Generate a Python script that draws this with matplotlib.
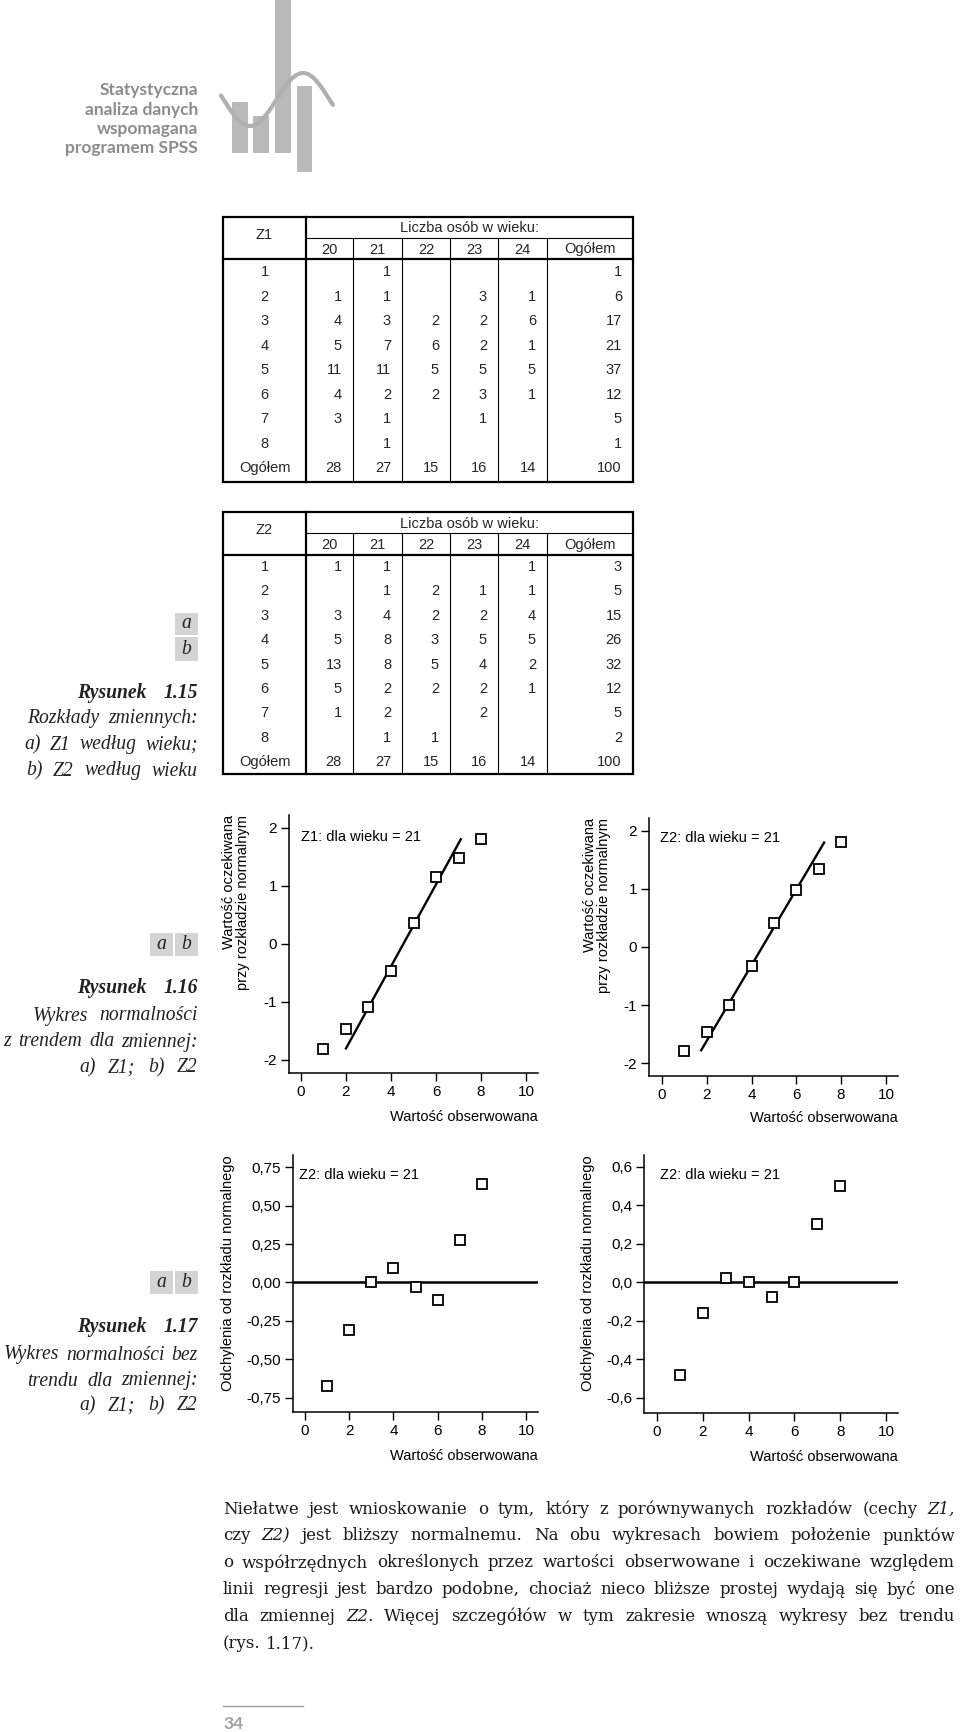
import numpy as np
import matplotlib
matplotlib.use('Agg')
import matplotlib.pyplot as plt
from matplotlib.patches import Rectangle

plt.rcParams['font.family'] = ['Liberation Sans', 'DejaVu Sans']
SERIF = ['DejaVu Serif']
CAP_SERIF = ['Liberation Serif', 'DejaVu Serif']

# --- tabele: Rysunek 1.15 ---
age_cols = ['20', '21', '22', '23', '24', 'Ogółem']
z_rows = ['1', '2', '3', '4', '5', '6', '7', '8', 'Ogółem']
z1_table = [
    [None, 1, None, None, None, 1],
    [1, 1, None, 3, 1, 6],
    [4, 3, 2, 2, 6, 17],
    [5, 7, 6, 2, 1, 21],
    [11, 11, 5, 5, 5, 37],
    [4, 2, 2, 3, 1, 12],
    [3, 1, None, 1, None, 5],
    [None, 1, None, None, None, 1],
    [28, 27, 15, 16, 14, 100],
]
z2_table = [
    [1, 1, None, None, 1, 3],
    [None, 1, 2, 1, 1, 5],
    [3, 4, 2, 2, 4, 15],
    [5, 8, 3, 5, 5, 26],
    [13, 8, 5, 4, 2, 32],
    [5, 2, 2, 2, 1, 12],
    [1, 2, None, 2, None, 5],
    [None, 1, 1, None, None, 2],
    [28, 27, 15, 16, 14, 100],
]

# --- wykresy normalności: Rysunek 1.16 i 1.17 ---
obs_x = [1, 2, 3, 4, 5, 6, 7, 8]
z1_expected = [-1.81, -1.47, -1.08, -0.47, 0.36, 1.15, 1.47, 1.80]
z2_expected = [-1.80, -1.46, -1.00, -0.32, 0.42, 0.99, 1.35, 1.81]
z1_trend_x = [2.0, 7.1]
z1_trend_y = [-1.80, 1.80]
z2_trend_x = [1.75, 7.24]
z2_trend_y = [-1.78, 1.80]
z1_dev = [-0.674, -0.308, 0.0, 0.096, -0.029, -0.113, 0.275, 0.642]
z2_dev = [-0.479, -0.16, 0.022, 0.0, -0.077, 0.0, 0.303, 0.50]

x_ticks = [0, 2, 4, 6, 8, 10]
trend_ticks = [-2, -1, 0, 1, 2]
trend_labels = ['-2', '-1', '0', '1', '2']
dev1_ticks = [-0.75, -0.5, -0.25, 0, 0.25, 0.5, 0.75]
dev1_labels = ['-0,75', '-0,50', '-0,25', '0,00', '0,25', '0,50', '0,75']
dev2_ticks = [-0.6, -0.4, -0.2, 0, 0.2, 0.4, 0.6]
dev2_labels = ['-0,6', '-0,4', '-0,2', '0,0', '0,2', '0,4', '0,6']

# --- tekst strony ---
logo_lines = ['Statystyczna', 'analiza danych', 'wspomagana', 'programem SPSS']
body_lines = [
    'Niełatwe jest wnioskowanie o tym, który z porównywanych rozkładów (cechy _Z1,',
    'czy _Z2) jest bliższy normalnemu. Na obu wykresach bowiem położenie punktów',
    'o współrzędnych określonych przez wartości obserwowane i oczekiwane względem',
    'linii regresji jest bardzo podobne, chociaż nieco bliższe prostej wydają się być one',
    'dla zmiennej _Z2. Więcej szczegółów w tym zakresie wnoszą wykresy bez trendu',
    '(rys. 1.17).',
]

W, H = 960, 1732
fig = plt.figure(figsize=(W / 100, H / 100), dpi=100)
bg = fig.add_axes([0, 0, 1, 1])
bg.set_xlim(0, W)
bg.set_ylim(H, 0)
bg.axis('off')
R = fig.canvas.get_renderer()

# --- logo w nagłówku ---
GRAY = '#b9b9b9'
for (x0, y0, x1, y1) in [(232, 102, 248, 153), (253, 116, 269, 153),
                         (275, 0, 291, 153), (297, 86, 312, 172)]:
    bg.add_patch(Rectangle((x0, y0), x1 - x0, y1 - y0, color=GRAY, lw=0))
wx = np.linspace(221, 333, 200)
bg.plot(wx, 99.5 + 26.5 * np.cos(np.pi * (wx - 250) / 53), color='#b0b0b0', lw=3,
        solid_capstyle='round')
for i, s in enumerate(logo_lines):
    bg.text(198, 90 + 19.5 * i, s, ha='right', va='center', fontsize=12.5,
            family=['Lato', 'DejaVu Sans'], fontweight='bold', color='#8c8c8c')


# --- tabele ---
def draw_table(top, bot, hsplit, hbot, row0, step, corner, values):
    L, Rr = 223, 633
    cols = [306, 353, 402, 450, 498, 547, 633]
    tc = '#262626'
    bg.add_patch(Rectangle((L, top), Rr - L, bot - top, fill=False, lw=1.6, ec='black'))
    bg.plot([cols[0], cols[0]], [top, bot], color='black', lw=1.6)
    bg.plot([L, Rr], [hbot, hbot], color='black', lw=1.6)
    bg.plot([cols[0], Rr], [hsplit, hsplit], color='black', lw=0.8)
    for c in cols[1:-1]:
        bg.plot([c, c], [hsplit, bot], color='black', lw=0.8)
    bg.text((cols[0] + Rr) / 2, (top + hsplit) / 2 + 1, 'Liczba osób w wieku:',
            ha='center', va='center', fontsize=10.5, color=tc)
    bg.text((L + cols[0]) / 2, (top + hbot) / 2 - 3, corner, ha='center', va='center',
            fontsize=10.5, color=tc)
    for j, a in enumerate(age_cols):
        bg.text((cols[j] + cols[j + 1]) / 2, (hsplit + hbot) / 2 + 1, a,
                ha='center', va='center', fontsize=10.5, color=tc)
    for i, (lab, row) in enumerate(zip(z_rows, values)):
        y = row0 + step * i
        bg.text((L + cols[0]) / 2, y, lab, ha='center', va='center', fontsize=10.5, color=tc)
        for j, v in enumerate(row):
            if v is not None:
                bg.text(cols[j + 1] - 11, y, str(v), ha='right', va='center',
                        fontsize=10.5, color=tc)


draw_table(217, 482, 238, 259, 272, 24.55, 'Z1', z1_table)
draw_table(512, 774, 533, 555, 567, 24.4, 'Z2', z2_table)


# --- wykresy ---
def panel(box, xlim, ylim, y, yticks, ylabels, ylabel, ylab_x, note_xy, note,
          xlab_y, trend=None, zero=False):
    l, t, r, b = box
    ax = fig.add_axes([l / W, 1 - b / H, (r - l) / W, (b - t) / H])
    ax.patch.set_alpha(0)
    for s in ['top', 'right']:
        ax.spines[s].set_visible(False)
    for s in ['left', 'bottom']:
        ax.spines[s].set_linewidth(1.1)
    if trend is not None:
        ax.plot(trend[0], trend[1], color='black', lw=1.7, zorder=2)
    if zero:
        ax.axhline(0, color='black', lw=1.8, zorder=2)
    ax.plot(obs_x, y, ls='none', marker='s', ms=6.5, mfc='white', mec='black',
            mew=1.3, zorder=3, clip_on=False)
    ax.set_xlim(xlim)
    ax.set_ylim(ylim)
    ax.set_xticks(x_ticks)
    ax.set_yticks(yticks)
    ax.set_yticklabels(ylabels)
    ax.tick_params(direction='out', length=5.5, width=1, labelsize=11, pad=3,
                   colors='black')
    bg.text(ylab_x, t, ylabel, rotation=90, ha='center', va='top',
            multialignment='right', fontsize=10.5, linespacing=1.05)
    bg.text(note_xy[0], note_xy[1], note, ha='left', va='center', fontsize=10.5)
    bg.text(r, xlab_y, 'Wartość obserwowana', ha='right', va='center', fontsize=10.5)
    return ax


lab2 = 'Wartość oczekiwana\nprzy rozkładzie normalnym'
panel((289, 815, 538, 1073), (-0.533, 10.533), (-2.224, 2.219), z1_expected,
      trend_ticks, trend_labels, lab2, 236, (301, 837), 'Z1: dla wieku = 21', 1117,
      trend=(z1_trend_x, z1_trend_y))
panel((649, 818, 898, 1076), (-0.58, 10.54), (-2.224, 2.224), z2_expected,
      trend_ticks, trend_labels, lab2, 597, (660, 838), 'Z2: dla wieku = 21', 1118,
      trend=(z2_trend_x, z2_trend_y))
panel((293, 1155, 538, 1412), (-0.54, 10.54), (-0.841, 0.828), z1_dev,
      dev1_ticks, dev1_labels, 'Odchylenia od rozkładu normalnego', 228, (299, 1175),
      'Z2: dla wieku = 21', 1456, zero=True)
panel((644, 1155, 898, 1413), (-0.57, 10.52), (-0.678, 0.662), z2_dev,
      dev2_ticks, dev2_labels, 'Odchylenia od rozkładu normalnego', 588, (660, 1175),
      'Z2: dla wieku = 21', 1457, zero=True)


# --- tekst złożony (justowanie) ---
def measure(s, size, style='normal', weight='normal', family=SERIF):
    t = bg.text(0, 0, s, fontsize=size, family=family, fontstyle=style, fontweight=weight)
    w = t.get_window_extent(R).width
    t.remove()
    return w


def put_line(line, y, x0, x1, size, style='normal', weight='normal', color='#1a1a1a',
             align='justify', family=SERIF):
    items = []
    for w in line.split():
        st = style
        if w.startswith('_'):
            w, st = w[1:], 'italic'
        t = bg.text(0, y, w, fontsize=size, family=family, fontstyle=st,
                    fontweight=weight, ha='left', va='center', color=color)
        items.append((t, t.get_window_extent(R).width))
    sp = measure('a a', size, style, family=family) - measure('aa', size, style, family=family)
    total = sum(w for _, w in items)
    n = len(items)
    if align == 'left' or n == 1:
        gap, x = sp, x0
    else:
        gap = (x1 - x0 - total) / (n - 1)
        x = x0
        if gap < 0.6 * sp:
            gap = sp
            x = x1 - total - gap * (n - 1)
    for t, w in items:
        t.set_x(x)
        x += w + gap


TX0, TX1 = 223, 955
ref_w = max(measure(s.replace('_', ''), 10) for s in body_lines[:5])
FS = 10 * 0.965 * (TX1 - TX0) / ref_w

for i, s in enumerate(body_lines):
    put_line(s, 1509 + 26.9 * i, TX0, TX1, FS, align='left' if i == 5 else 'justify')

# podpisy rysunków
CAP = '#222222'
BOX = '#d4d4d4'
captions = [
    (693, 77, 'Rysunek 1.15', 'bold'),
    (719, 27, 'Rozkłady zmiennych:', 'normal'),
    (745, 24, 'a) Z1 według wieku;', 'normal'),
    (771, 26, 'b) Z2 według wieku', 'normal'),
    (988, 77, 'Rysunek 1.16', 'bold'),
    (1016, 33, 'Wykres normalności', 'normal'),
    (1042, 3, 'z trendem dla zmiennej:', 'normal'),
    (1068, 79, 'a) Z1; b) Z2', 'normal'),
    (1327, 77, 'Rysunek 1.17', 'bold'),
    (1355, 4, 'Wykres normalności bez', 'normal'),
    (1381, 27, 'trendu dla zmiennej:', 'normal'),
    (1406, 79, 'a) Z1; b) Z2', 'normal'),
]
CAP_X1 = 198
FS_CAP = min([FS * 1.2] + [10 * 0.975 * (CAP_X1 - x0) /
                            measure(s, 10, 'italic', w, family=CAP_SERIF)
                            for _, x0, s, w in captions])


def boxes(cells):
    for (x0, y0, x1, y1, s) in cells:
        bg.add_patch(Rectangle((x0, y0), x1 - x0, y1 - y0, color=BOX, lw=0))
        bg.text((x0 + x1) / 2, (y0 + y1) / 2, s, ha='center', va='center',
                fontsize=FS_CAP, family=CAP_SERIF, fontstyle='italic', color=CAP)


boxes([(175, 613, 198, 635, 'a'), (175, 637, 198, 661, 'b')])
boxes([(150, 933, 173, 956, 'a'), (175, 933, 198, 956, 'b')])
boxes([(150, 1271, 173, 1294, 'a'), (175, 1271, 198, 1294, 'b')])

for y, x0, s, wgt in captions:
    put_line(s, y, x0, CAP_X1, FS_CAP, style='italic', weight=wgt, color=CAP,
             family=CAP_SERIF)

# numer strony
bg.plot([223, 303], [1706, 1706], color='#a0a0a0', lw=1)
bg.text(223, 1724, '34', ha='left', va='center', fontsize=12.5, fontweight='bold',
        family=['Lato', 'DejaVu Sans'], color='#a0a0a0')

fig.savefig('out.png', dpi=100)
